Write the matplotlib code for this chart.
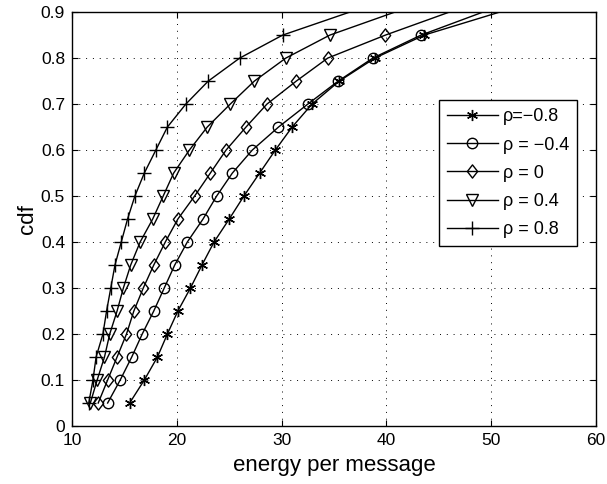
import matplotlib
matplotlib.use("Agg")
import matplotlib.pyplot as plt
from matplotlib.path import Path

plt.rcParams["font.family"] = ["Liberation Sans", "DejaVu Sans"]

# cdf levels where the markers sit, plus the end point at the top edge
cdf = [0.05, 0.10, 0.15, 0.20, 0.25, 0.30, 0.35, 0.40, 0.45,
       0.50, 0.55, 0.60, 0.65, 0.70, 0.75, 0.80, 0.85, 0.90]

# energy per message for each rho
e_m08 = [15.5, 16.9, 18.15, 19.1, 20.1, 21.3, 22.4, 23.55, 25.0,
         26.4, 27.9, 29.4, 31.0, 32.9, 35.5, 38.9, 43.6, 50.8]
e_m04 = [13.4, 14.6, 15.7, 16.7, 17.8, 18.8, 19.8, 21.0, 22.5,
         23.8, 25.3, 27.2, 29.7, 32.5, 35.4, 38.7, 43.3, 49.2]
e_0 = [12.5, 13.4, 14.3, 15.2, 15.9, 16.8, 17.8, 18.9, 20.1,
       21.7, 23.2, 24.7, 26.6, 28.6, 31.4, 34.4, 39.9, 46.0]
e_04 = [11.75, 12.4, 13.1, 13.6, 14.3, 14.9, 15.6, 16.5, 17.7,
        18.7, 19.7, 21.2, 22.9, 25.1, 27.4, 30.4, 34.6, 40.8]
e_08 = [11.6, 12.0, 12.3, 12.95, 13.3, 13.7, 14.1, 14.7, 15.3,
        16.0, 16.9, 18.0, 19.1, 20.86, 23.0, 26.0, 30.1, 36.5]

labels = ["\u03c1=\u22120.8", "\u03c1 = \u22120.4", "\u03c1 = 0", "\u03c1 = 0.4", "\u03c1 = 0.8"]
series = [e_m08, e_m04, e_0, e_04, e_08]

# matlab-style diamond, a bit taller than wide
diamond = Path([(0, 1), (0.78, 0), (0, -1), (-0.78, 0), (0, 1)],
               [Path.MOVETO, Path.LINETO, Path.LINETO, Path.LINETO, Path.CLOSEPOLY])
markers = [(6, 2, 0), "o", diamond, "v", "+"]
msizes = [8, 7.5, 9.5, 8.5, 9.5]

fig = plt.figure(figsize=(6.07, 4.84), dpi=100)
ax = fig.add_axes([0.1186, 0.1198, 0.8634, 0.8552])

n = len(cdf) - 1  # last point has no marker
for x, lab, m, ms in zip(series, labels, markers, msizes):
    ax.plot(x, cdf, color="black", linewidth=1.0, marker=m, markersize=ms,
            markerfacecolor="none", markeredgecolor="black", markeredgewidth=1.0,
            markevery=list(range(n)), label=lab)

ax.set_xlim(10, 60)
ax.set_ylim(0, 0.9)
ax.set_xticks([10, 20, 30, 40, 50, 60])
ax.set_yticks([0, 0.1, 0.2, 0.3, 0.4, 0.5, 0.6, 0.7, 0.8, 0.9])
ax.set_yticklabels(["0", "0.1", "0.2", "0.3", "0.4", "0.5", "0.6", "0.7", "0.8", "0.9"])
ax.tick_params(direction="in", length=4, labelsize=12.5, top=True, right=True, pad=5)
ax.grid(True, linestyle=(0, (1, 6)), color="black", linewidth=0.7)
for s in ax.spines.values():
    s.set_linewidth(1.0)

ax.set_xlabel("energy per message", fontsize=16, labelpad=5)
ax.set_ylabel("cdf", fontsize=16, labelpad=2)

leg = ax.legend(loc="upper left", bbox_to_anchor=(0.70, 0.787), fontsize=13,
                frameon=True, fancybox=False, edgecolor="black", framealpha=1,
                handlelength=2.8, borderpad=0.45, labelspacing=0.62, handletextpad=0.3,
                borderaxespad=0)
leg.get_frame().set_linewidth(1.0)

fig.savefig("out.png", dpi=100)
